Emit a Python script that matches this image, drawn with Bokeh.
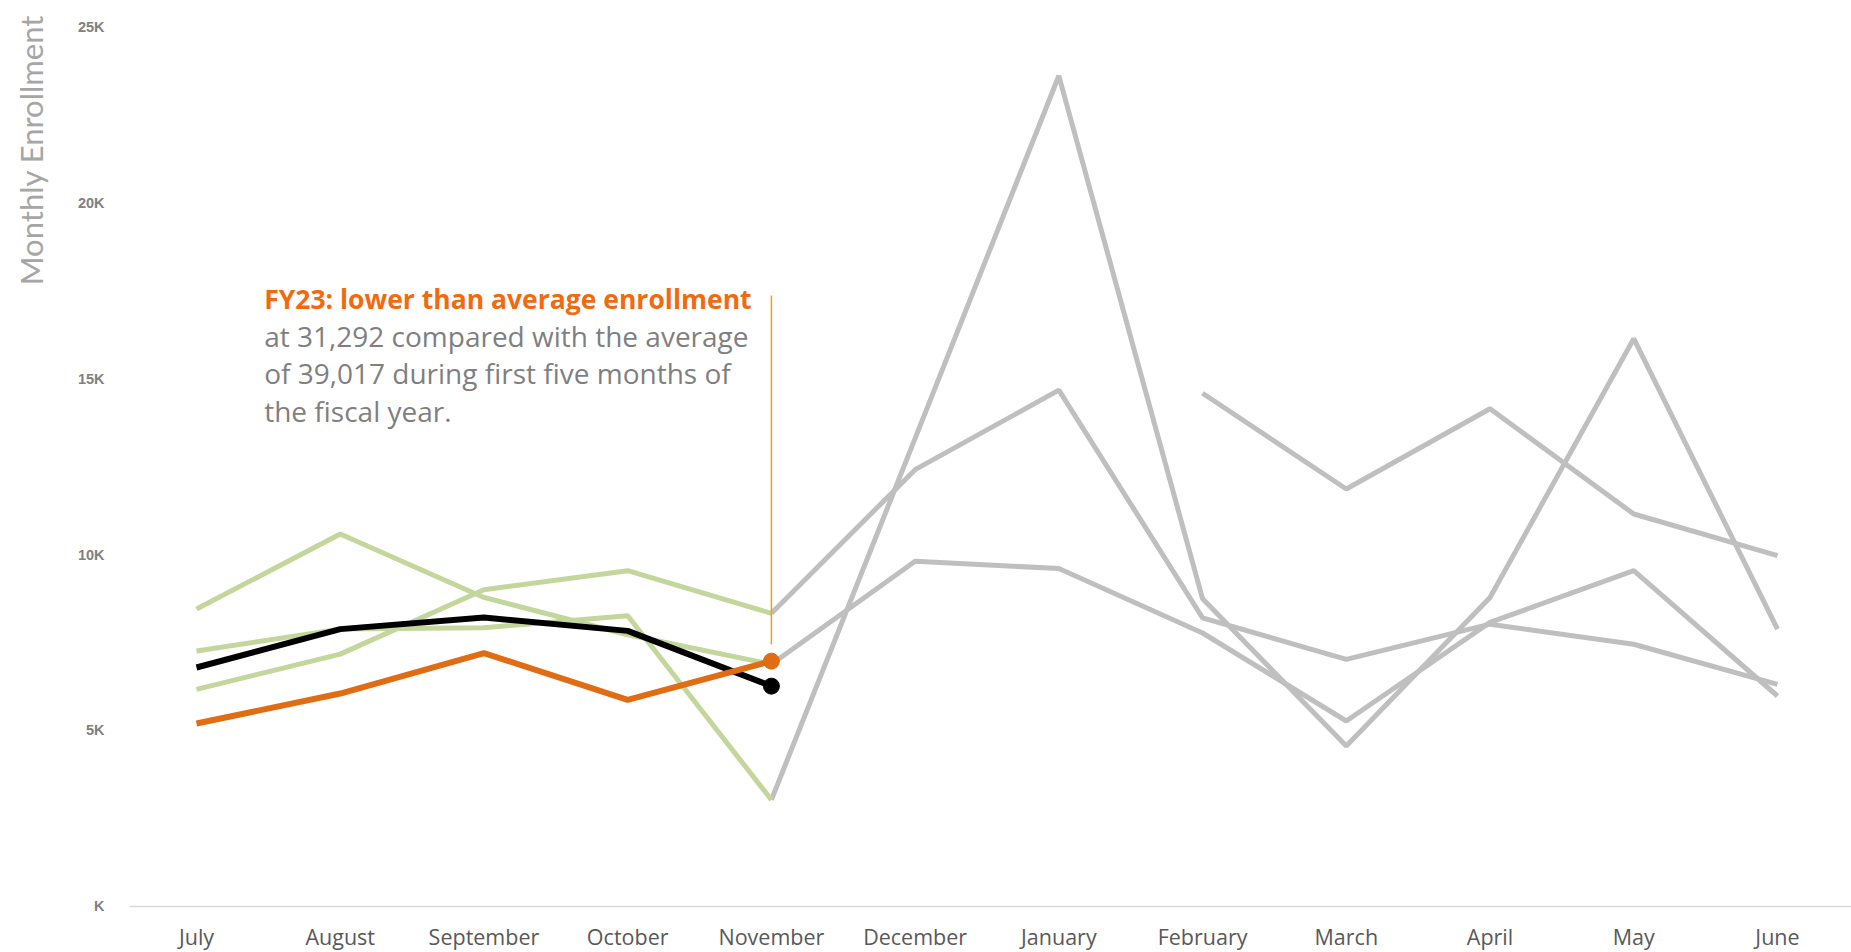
import math
from bokeh.plotting import figure
from bokeh.models import Range1d, Label
from bokeh.embed import file_html
from bokeh.resources import INLINE
from bokeh.core.properties import value

nan = float("nan")

months = ["July", "August", "September", "October", "November", "December",
          "January", "February", "March", "April", "May", "June"]

# Prior fiscal years (monthly enrollment)
fy_a = [8450, 10580, 8780, 7720, 6880, 9810, 9600, 7770, 5270, 8070, 9540, 5980]
fy_b = [7260, 7880, 7920, 8260, 3030, 13300, 23600, 8740, 4560, 8780, 16130, 7880]
fy_c = [6170, 7170, 9000, 9540, 8330, 12410, 14670, 8200, 7020, 8020, 7450, 6310]
fy_d = [nan, nan, nan, nan, nan, nan, nan, 14580, 11860, 14140, 11150, 9970]

# First five months: average and FY23
avg_first5 = [6790, 7880, 8210, 7830, 6260]
fy23 = [5200, 6050, 7200, 5870, 6970]

y_ticks = [0, 5000, 10000, 15000, 20000, 25000]
y_tick_labels = ["K", "5K", "10K", "15K", "20K", "25K"]
y_title = "Monthly Enrollment"

title_text = "FY23: lower than average enrollment"
body_lines = ["at 31,292 compared with the average",
              "of 39,017 during first five months of",
              "the fiscal year."]

GRAY = "#BFBFBF"
GREEN = "#C3D69B"
ORANGE = "#E06C14"

# axis baseline extent (in month-index units)
X_LEFT_EDGE, X_RIGHT_EDGE = -0.466, 11.515

W, H = 1851, 952
p = figure(width=W, height=H, output_backend="svg", toolbar_location=None,
           x_range=Range1d(-1.3637, X_RIGHT_EDGE), y_range=Range1d(-1307, 25739),
           min_border_left=0, min_border_right=0, min_border_top=0,
           min_border_bottom=0)
p.outline_line_color = None
p.xgrid.visible = False
p.ygrid.visible = False
p.xaxis.visible = False
p.yaxis.visible = False
p.background_fill_color = "white"

x_all = list(range(len(months)))
x5 = x_all[:5]

# axis baseline
p.segment(x0=[X_LEFT_EDGE], y0=[y_ticks[0]], x1=[X_RIGHT_EDGE], y1=[y_ticks[0]],
          line_color="#D9D9D9", line_width=1.5)

# gray parts (November onward)
for s in (fy_a, fy_b, fy_c):
    p.line(x_all[4:], s[4:], line_color=GRAY, line_width=5)
p.line(x_all, fy_d, line_color=GRAY, line_width=5)

# green parts (July - November)
for s in (fy_a, fy_b, fy_c):
    p.line(x5, s[:5], line_color=GREEN, line_width=5)

# average
p.line(x5, avg_first5, line_color="black", line_width=6)
p.scatter([x5[-1]], [avg_first5[-1]], size=16, color="black")

# FY23
p.line(x5, fy23, line_color=ORANGE, line_width=6)
p.scatter([x5[-1]], [fy23[-1]], size=16, color=ORANGE)

# annotation leader line
p.segment(x0=[4], y0=[17359], x1=[4], y1=[7440], line_color="#F59A1E", line_width=1.5)

# annotation text
TX = 0.471
p.add_layout(Label(x=TX, y=17259, text=title_text, text_font="Open Sans",
                   text_font_style="bold", text_font_size="26.5px", text_color="#F26A10",
                   text_baseline="middle", text_align="left"))
for i, t in enumerate(body_lines):
    p.add_layout(Label(x=TX, y=16220 - i * 1073, text=t,
                       text_font="Open Sans", text_font_size="28px",
                       text_color="#7F7F7F", text_baseline="middle", text_align="left"))

# y tick labels
p.text(x=[-0.640] * len(y_ticks), y=y_ticks, text=y_tick_labels,
       text_font=value("Liberation Sans"), text_font_style="bold",
       text_font_size="14.5px", text_color="#808080",
       text_align="right", text_baseline="middle")

# x tick labels (month names) below the baseline
p.text(x=x_all, y=[-850] * len(months), text=months,
       text_font=value("Open Sans"), text_font_size="21.5px", text_color="#595959",
       text_align="center", text_baseline="middle")

# y axis title, near the top as in the reference
p.text(x=[-1.150], y=[25330], text=[y_title], angle=math.pi / 2,
       text_font=value("Lato"), text_font_size="31px", text_color="#A6A6A6",
       text_align="right", text_baseline="middle")

open("out.html", "w").write(file_html(p, INLINE))
